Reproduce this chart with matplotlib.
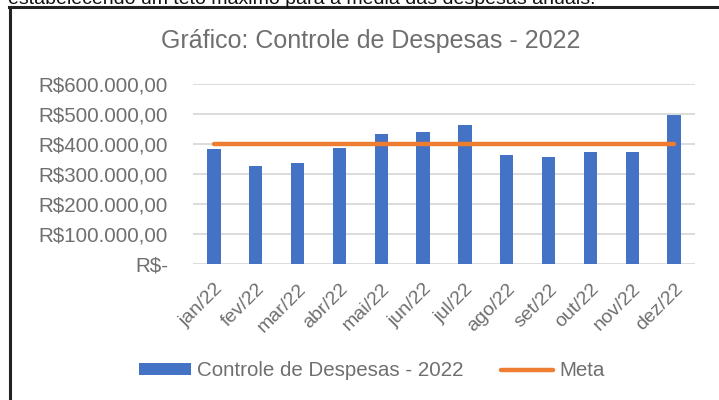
import matplotlib; matplotlib.use("Agg")
import matplotlib.pyplot as plt
from matplotlib.lines import Line2D
import numpy as np

plt.rcParams["font.family"] = ["Liberation Sans", "DejaVu Sans"]

meses = ["jan/22", "fev/22", "mar/22", "abr/22", "mai/22", "jun/22",
         "jul/22", "ago/22", "set/22", "out/22", "nov/22", "dez/22"]
despesas = [381000, 325000, 336000, 385000, 432000, 439000,
            462000, 361000, 356000, 373000, 371000, 495000]
meta = [400000] * 12
yticks = [0, 100000, 200000, 300000, 400000, 500000, 600000]
ylabels = ["R$-", "R$100.000,00", "R$200.000,00", "R$300.000,00",
           "R$400.000,00", "R$500.000,00", "R$600.000,00"]

AZUL = "#4472C4"; LARANJA = "#ED7D31"; CINZA = "#6f6f6f"

fig = plt.figure(figsize=(7.19, 4.0), dpi=100)
ax = fig.add_axes([0.2684, 0.34, 0.6982, 0.45125])

x = np.arange(len(meses))
barras = ax.bar(x, despesas, width=0.32, color=AZUL, zorder=3, label="Controle de Despesas - 2022")
linha, = ax.plot(x, meta, color=LARANJA, lw=3.2, solid_capstyle="round", zorder=4, label="Meta")

ax.set_xlim(-0.5, len(meses) - 0.5)
ax.set_ylim(0, 600000)
ax.set_yticks(yticks)
ax.set_yticklabels(ylabels, fontsize=14.8, color=CINZA)
ax.set_xticks(x)
ax.set_xticklabels(meses, rotation=45, ha="right", rotation_mode="anchor",
                   fontsize=14, color=CINZA)
ax.tick_params(axis="both", length=0)
ax.tick_params(axis="y", pad=18)
ax.tick_params(axis="x", pad=12)
ax.grid(axis="y", color="#d9d9d9", lw=1.3, zorder=0)
for s in ax.spines.values():
    s.set_visible(False)

fig.text(0.515, 1 - 41 / 400, "Gráfico: Controle de Despesas - 2022",
         ha="center", va="center", fontsize=18, color=CINZA)

fig.legend([barras, linha], ["Controle de Despesas - 2022", "Meta"],
           loc="center", bbox_to_anchor=(0.517, 1 - 371 / 400), ncol=2, frameon=False,
           fontsize=14.8, labelcolor=CINZA, handlelength=2.55, handleheight=0.55,
           handletextpad=0.3, columnspacing=1.8)

# texto do documento cortado no topo e moldura do gráfico
fig.text(0.011, 1 - 4 / 400, "estabelecendo um teto máximo para a média das despesas anuais.",
         ha="left", va="baseline", fontsize=14, color="#111111")
fig.add_artist(Line2D([0.013, 1.0], [1 - 6.5 / 400] * 2, color="#222222", lw=2.2))
fig.add_artist(Line2D([0.0139, 0.0139], [0, 1 - 6.5 / 400], color="#222222", lw=2.2))

fig.savefig("out.png", dpi=100)
